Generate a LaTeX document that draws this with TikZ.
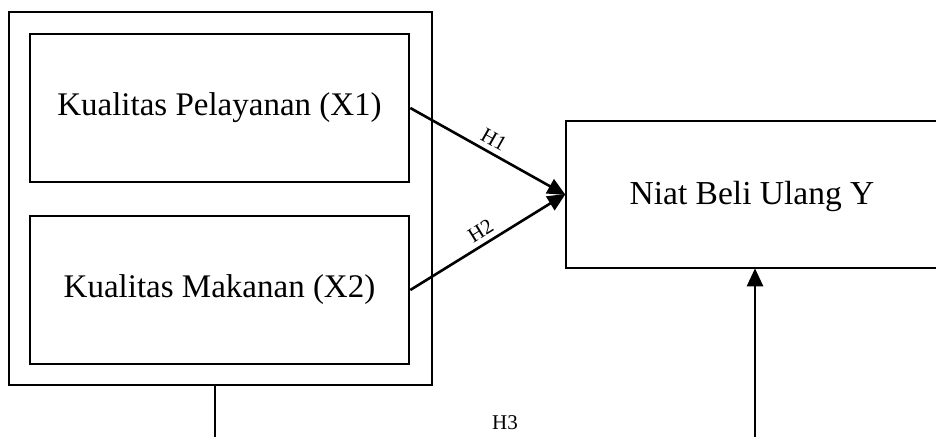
\documentclass[tikz,border=0pt]{standalone}
\usepackage{fontspec}
\setmainfont{Liberation Serif}
\usetikzlibrary{arrows.meta}
\tikzset{
  box/.style={draw, line width=2.6pt, rectangle, inner sep=0pt, font=\fontsize{33}{38}\selectfont},
  link/.style={line width=2.6pt, -{Triangle[length=18pt,width=16pt]}, shorten >=-1pt},
  hlabel/.style={font=\fontsize{21}{24}\selectfont, inner sep=1pt}
}
\begin{document}
\begin{tikzpicture}[x=1pt,y=-1pt]
  \useasboundingbox (0,0) rectangle (936,436);
  \clip (0,0) rectangle (936,436);
  \fill[white] (0,0) rectangle (936,436);

  % grouping frame around the two independent variables
  \node[box, minimum width=423pt, minimum height=373pt] (grp) at (220.5,198.5) {};
  \node[box, minimum width=379pt, minimum height=148pt] (x1) at (219.5,108) {Kualitas Pelayanan (X1)};
  \node[box, minimum width=379pt, minimum height=148pt] (x2) at (219.5,290) {Kualitas Makanan (X2)};

  % dependent variable (box runs off the right edge)
  \node[box, minimum width=404pt, minimum height=147pt] (y) at (768,194.5) {};
  \node[font=\fontsize{33.5}{38}\selectfont, inner sep=0pt] (ytext) at (752,196) {Niat Beli Ulang Y};

  % hypotheses
  \draw[link] (x1.east) -- node[hlabel, sloped, above=4pt, pos=0.5] {H1} (y.west);
  \draw[link] (x2.east) -- node[hlabel, sloped, above=4pt, pos=0.5] {H2} (y.west);

  \coordinate (gbot) at (215,440);
  \coordinate (ybot) at (755,440);
  \draw[line width=2.6pt] (grp.south -| gbot) -- (gbot);
  \draw[link] (ybot) -- (y.south -| ybot);
  \node[hlabel, inner sep=0pt] (h3) at (505,423) {H3};
\end{tikzpicture}
\end{document}
